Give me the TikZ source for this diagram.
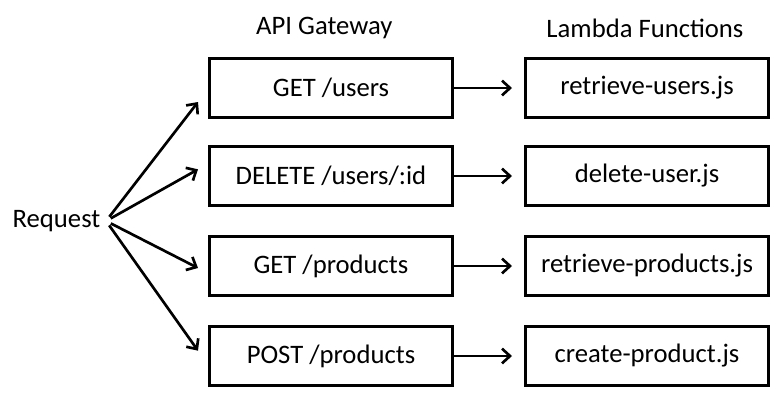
\documentclass[tikz,border=0pt]{standalone}
\usepackage{fontspec}
\setmainfont{Carlito}
\usetikzlibrary{arrows,arrows.meta}

\begin{document}
\begin{tikzpicture}[->,>={Straight Barb[length=6pt,width=11pt,line width=2pt]},
        line width=2pt,x=0.75pt,y=-0.75pt,
        node distance=237pt,font=\fontsize{20}{24}\selectfont,
        route/.style={draw,line width=2pt,minimum width=182.5pt,minimum height=44.5pt}]

  \useasboundingbox (0,0) rectangle (783,401);

  \node (req) at (56.5,221) {Request};

  \node[route] (g1) at (331,88)  {GET /users};
  \node[route] (g2) at (331,176) {DELETE /users/:id};
  \node[route] (g3) at (331,266) {GET /products};
  \node[route] (g4) at (331,356) {POST /products};

  \node[route] (l1) [right of=g1] {retrieve-users.js};
  \node[route] (l2) [right of=g2] {delete-user.js};
  \node[route] (l3) [right of=g3] {retrieve-products.js};
  \node[route] (l4) [right of=g4] {create-product.js};

  \node (gw)  [above of=g1,node distance=45pt,xshift=-5pt] {API Gateway};
  \node (lam) [above of=l1,node distance=45pt,xshift=-1.5pt] {Lambda Functions};

  \path[line width=2pt,shorten <=4pt]
        (req.east) edge ([xshift=-7.5pt,yshift=-10.5pt]g1.west)
        (req.east) edge ([xshift=-7.5pt,yshift=5pt]g2.west)
        (req.east) edge ([xshift=-7.5pt,yshift=-1.5pt]g3.west)
        (req.east) edge ([xshift=-7.5pt,yshift=4pt]g4.west);

  \path[line width=2pt,shorten >=9pt]
        (g1) edge (l1)
        (g2) edge (l2)
        (g3) edge (l3)
        (g4) edge (l4);

\end{tikzpicture}
\end{document}
